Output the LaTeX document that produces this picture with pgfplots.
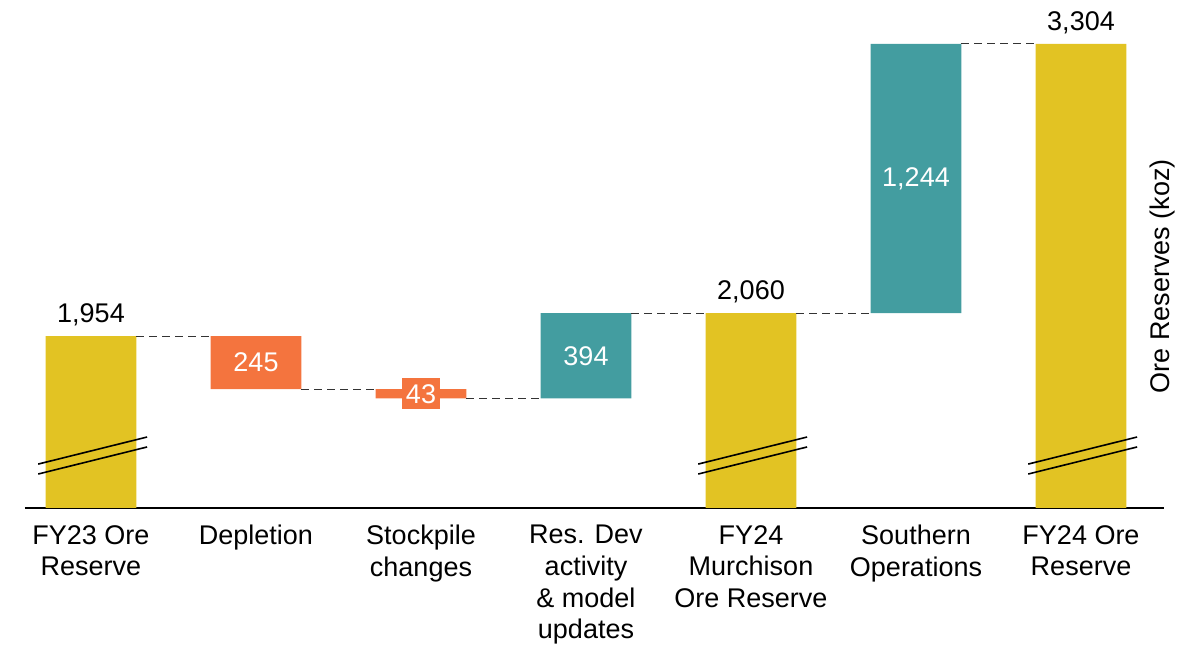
\documentclass[border=0pt]{standalone}
\usepackage{fontspec}
\setmainfont{Liberation Sans}
\usepackage{pgfplots}
\pgfplotsset{compat=1.18}
\definecolor{cyel}{RGB}{226,195,35}
\definecolor{corg}{RGB}{244,116,62}
\definecolor{ctea}{RGB}{67,157,160}
\begin{document}
\fontsize{13.5}{15.8}\selectfont
\begin{tikzpicture}
\useasboundingbox (-12.5pt,-69pt) rectangle (578pt,254pt);
\begin{axis}[
  at={(0,0)}, anchor=south west,
  scale only axis, width=569.25pt, height=232pt,
  xmin=-0.4, xmax=6.5, ymin=1160, ymax=3304,
  axis x line*=bottom, axis y line=none,
  x axis line style={line width=0.6pt, black, -},
  xtick={0,1,2,3,4,5,6},
  xticklabels={{FY23 Ore\\Reserve},{Depletion},{Stockpile\\changes},{Res. Dev\\activity\\\& model\\updates},{FY24\\Murchison\\Ore Reserve},{Southern\\Operations},{FY24 Ore\\Reserve}},
  major tick length=0pt,
  xticklabel style={align=center, font=\fontsize{13.5}{15.8}\selectfont, anchor=north, yshift=-4pt},
  ytick=\empty,
  ybar stacked, reverse stacked plots=false, bar width=0.55,
  clip=false,
]
% invisible bases
\addplot[draw=none, fill=none] coordinates {(0,1160) (1,1709) (2,1666) (3,1666) (4,1160) (5,2060) (6,1160)};
% yellow totals
\addplot[draw=none, fill=cyel] coordinates {(0,794) (1,0) (2,0) (3,0) (4,900) (5,0) (6,2144)};
% orange decreases
\addplot[draw=none, fill=corg] coordinates {(0,0) (1,245) (2,43) (3,0) (4,0) (5,0) (6,0)};
% teal increases
\addplot[draw=none, fill=ctea] coordinates {(0,0) (1,0) (2,0) (3,394) (4,0) (5,1244) (6,0)};

% connectors
\addplot[stack plots=false, sharp plot, black!80, line width=0.5pt, dash pattern=on 4pt off 2.5pt] coordinates {(0.275,1954) (0.725,1954)};
\addplot[stack plots=false, sharp plot, black!80, line width=0.5pt, dash pattern=on 4pt off 2.5pt] coordinates {(1.275,1709) (1.725,1709)};
\addplot[stack plots=false, sharp plot, black!80, line width=0.5pt, dash pattern=on 4pt off 2.5pt] coordinates {(2.275,1666) (2.725,1666)};
\addplot[stack plots=false, sharp plot, black!80, line width=0.5pt, dash pattern=on 4pt off 2.5pt] coordinates {(3.275,2060) (3.725,2060)};
\addplot[stack plots=false, sharp plot, black!80, line width=0.5pt, dash pattern=on 4pt off 2.5pt] coordinates {(4.275,2060) (4.725,2060)};
\addplot[stack plots=false, sharp plot, black!80, line width=0.5pt, dash pattern=on 4pt off 2.5pt] coordinates {(5.275,3304) (5.725,3304)};

% break marks
\addplot[stack plots=false, sharp plot, black, line width=0.8pt] coordinates {(-0.32,1363) (0.34,1488)};
\addplot[stack plots=false, sharp plot, black, line width=0.8pt] coordinates {(-0.32,1317) (0.34,1442)};
\addplot[stack plots=false, sharp plot, black, line width=0.8pt] coordinates {(3.68,1363) (4.34,1488)};
\addplot[stack plots=false, sharp plot, black, line width=0.8pt] coordinates {(3.68,1317) (4.34,1442)};
\addplot[stack plots=false, sharp plot, black, line width=0.8pt] coordinates {(5.68,1363) (6.34,1488)};
\addplot[stack plots=false, sharp plot, black, line width=0.8pt] coordinates {(5.68,1317) (6.34,1442)};

% label anchors
\coordinate (l1954) at (axis cs:0,1954);
\coordinate (l2060) at (axis cs:4,2060);
\coordinate (l3304) at (axis cs:6,3304);
\coordinate (l245) at (axis cs:1,1831.5);
\coordinate (l43) at (axis cs:2,1687.5);
\coordinate (l394) at (axis cs:3,1863);
\coordinate (l1244) at (axis cs:5,2682);
\coordinate (lyl) at (axis cs:6.495,2232);
\end{axis}
\node[anchor=south, inner sep=0pt, yshift=5pt] at (l1954) {1,954};
\node[anchor=south, inner sep=0pt, yshift=5pt] at (l2060) {2,060};
\node[anchor=south, inner sep=0pt, yshift=5pt] at (l3304) {3,304};
\node[text=white] at (l245) {245};
\node[text=white, fill=corg, inner xsep=2pt, inner ysep=3pt] at (l43) {43};
\node[text=white] at (l394) {394};
\node[text=white] at (l1244) {1,244};
\node[rotate=90] at (lyl) {Ore Reserves (koz)};
\end{tikzpicture}
\end{document}
